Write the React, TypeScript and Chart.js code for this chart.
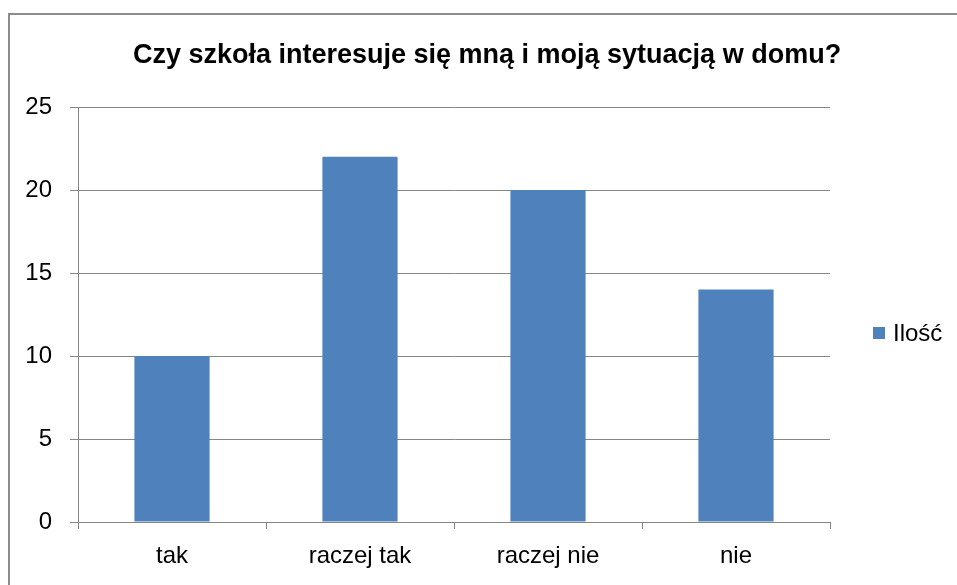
import React, { useEffect, useRef } from "react";
import { Chart, registerables } from "chart.js";

Chart.register(...registerables);

const TITLE = "Czy szkoła interesuje się mną i moją sytuacją w domu?";
const categories = ["tak", "raczej tak", "raczej nie", "nie"];
const seriesLabel = "Ilość";
const values = [10, 22, 20, 14];
const yTicks = [0, 5, 10, 15, 20, 25];

const BAR_COLOR = "#4F81BD";
const GRID_COLOR = "#868686";
const FONT = "'Liberation Sans', Arial, sans-serif";

const decorPlugin = {
  id: "decor",
  afterDraw(chart: any) {
    const ctx = chart.ctx;
    ctx.save();
    // title
    ctx.fillStyle = "#000";
    ctx.font = `bold 27px ${FONT}`;
    ctx.textAlign = "center";
    ctx.textBaseline = "alphabetic";
    ctx.fillText(TITLE, 487, 63);
    // legend
    const ds = chart.data.datasets[0];
    ctx.fillStyle = ds.backgroundColor;
    ctx.fillRect(873, 327, 12, 12);
    ctx.fillStyle = "#000";
    ctx.font = `24px ${FONT}`;
    ctx.textAlign = "left";
    ctx.fillText(ds.label, 893, 341);
    ctx.restore();
  },
};

export default function App() {
  const ref = useRef<HTMLCanvasElement | null>(null);
  useEffect(() => {
    if (!ref.current) return;
    const chart = new Chart(ref.current, {
      type: "bar",
      data: {
        labels: categories,
        datasets: [
          {
            label: seriesLabel,
            data: values,
            backgroundColor: BAR_COLOR,
            borderWidth: 0,
            categoryPercentage: 1,
            barPercentage: 0.4,
          },
        ],
      },
      options: {
        responsive: false,
        animation: false,
        maintainAspectRatio: false,
        layout: { padding: { left: 0, top: 107, right: 127, bottom: 0 } },
        plugins: {
          legend: { display: false },
          title: { display: false },
          tooltip: { enabled: false },
        },
        scales: {
          x: {
            grid: {
              offset: true,
              drawOnChartArea: false,
              drawTicks: true,
              tickLength: 7,
              color: GRID_COLOR,
            },
            border: { color: GRID_COLOR, width: 1 },
            ticks: {
              color: "#000",
              font: { family: FONT, size: 24 },
              padding: 13,
            },
            afterFit(scale: any) {
              scale.height = 63;
            },
          },
          y: {
            min: 0,
            max: 25,
            afterBuildTicks(scale: any) {
              scale.ticks = yTicks.map((v) => ({ value: v }));
            },
            grid: {
              color: GRID_COLOR,
              drawTicks: true,
              tickLength: 8,
            },
            border: { color: GRID_COLOR, width: 1 },
            ticks: {
              color: "#000",
              font: { family: FONT, size: 24 },
              padding: 18,
            },
            afterFit(scale: any) {
              scale.width = 78;
            },
          },
        },
      },
      plugins: [decorPlugin],
    });
    return () => chart.destroy();
  }, []);

  return (
    <div style={{ position: "fixed", left: 0, top: 0, width: 957, height: 585, background: "#fff" }}>
      <div
        style={{
          position: "absolute",
          left: 8,
          top: 13,
          width: 1000,
          height: 600,
          borderLeft: "2px solid #8c8c8c",
          borderTop: "2px solid #8c8c8c",
        }}
      />
      <canvas ref={ref} width={957} height={585} style={{ position: "absolute", left: 0, top: 0 }} />
    </div>
  );
}
